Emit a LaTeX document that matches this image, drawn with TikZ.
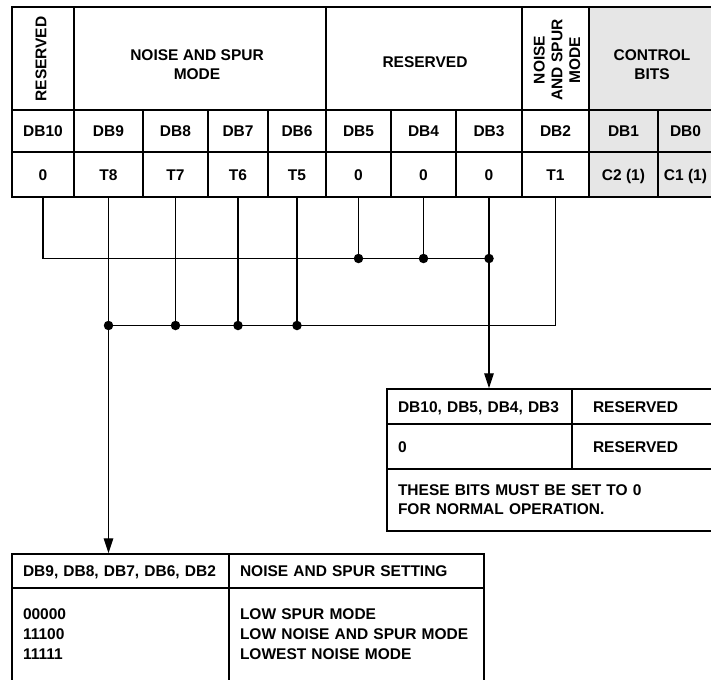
\documentclass[tikz,border=0pt]{standalone}
\usepackage{fontspec}
\setmainfont{Liberation Sans}
\usetikzlibrary{arrows.meta,calc}
\definecolor{ink}{HTML}{000000}
\definecolor{ctrlfill}{HTML}{E6E6E6}

\newcommand{\regfont}{\fontsize{15.5}{19}\selectfont\bfseries}
% centred cell: [opts] name, x1, x2, y1, y2, text (pixel units, y down)
\newcommand{\ccell}[7][]{%
  \node[cell,minimum width={(#4-#3)*1pt},minimum height={(#6-#5)*1pt},#1]
    (#2) at ({(#3+#4)/2},{(#5+#6)/2}) {#7};}
% left aligned cell, 11pt padding
\newcommand{\lcell}[7][]{%
  \node[cell,minimum width={(#4-#3)*1pt},minimum height={(#6-#5)*1pt},
        text width={(#4-#3-22)*1pt},inner xsep=11pt,align=left,#1]
    (#2) at ({(#3+#4)/2},{(#5+#6)/2}) {#7};}

\begin{document}
\begin{tikzpicture}[x=1pt,y=-1pt,
  cell/.style={draw=ink,line width=1.5pt,inner sep=0pt,font=\regfont,align=center},
  bitrow/.style={text height=11pt,text depth=0pt},
  hdr/.style={font=\regfont,align=center,inner sep=0pt},
  bus/.style={draw=ink,line width=1.4pt},
  jn/.style={circle,fill=ink,inner sep=0pt,minimum size=9.5pt},
  feed/.style={bus,-{Triangle[length=15pt,width=9.5pt]}}]
  \path[use as bounding box,clip] (0,0) rectangle (711,679);

  % register map: header row
  \ccell{h10}{12}{74}{7}{110}{}
  \ccell{h96}{74}{326}{7}{110}{}
  \ccell{h53}{326}{522}{7}{110}{}
  \ccell{h2}{522}{589}{7}{110}{}
  \ccell[fill=ctrlfill]{hc}{589}{713}{7}{110}{}
  \node[hdr,rotate=90] (t10) at (41,59) {RESERVED};
  \node[hdr] (t96) at (197,65) {NOISE AND SPUR\\MODE};
  \node[hdr] (t53) at (425,62) {RESERVED};
  \node[hdr,rotate=90,font=\fontsize{15.5}{17.7}\selectfont\bfseries] (t2) at (557,60)
       {NOISE\\AND SPUR\\MODE};
  \node[hdr] (tc) at (652,65) {CONTROL\\BITS};

  % bit names and values
  \foreach \nm/\xa/\xb/\tx in {b10/12/74/DB10,b9/74/143/DB9,b8/143/208/DB8,
      b7/208/268/DB7,b6/268/326/DB6,b5/326/391/DB5,b4/391/456/DB4,
      b3/456/522/DB3,b2/522/589/DB2}
    \ccell[bitrow]{\nm}{\xa}{\xb}{110}{152}{\tx};
  \ccell[bitrow,fill=ctrlfill]{b1}{589}{658}{110}{152}{DB1}
  \ccell[bitrow,fill=ctrlfill]{b0}{658}{713}{110}{152}{DB0}
  \foreach \nm/\xa/\xb/\tx in {v10/12/74/0,v9/74/143/T8,v8/143/208/T7,
      v7/208/268/T6,v6/268/326/T5,v5/326/391/0,v4/391/456/0,
      v3/456/522/0,v2/522/589/T1}
    \ccell[bitrow]{\nm}{\xa}{\xb}{152}{197}{\tx};
  \ccell[bitrow,fill=ctrlfill]{v1}{589}{658}{152}{197}{C2 (1)}
  \ccell[bitrow,fill=ctrlfill]{v0}{658}{713}{152}{197}{C1 (1)}

  % reserved bits table
  \lcell[bitrow]{r1a}{387}{572}{389}{424}{DB10, DB5, DB4, DB3}
  \lcell[bitrow]{r1b}{572}{713}{389}{424}{\hspace*{10pt}RESERVED}
  \lcell[bitrow]{r2a}{387}{572}{424}{469}{0}
  \lcell[bitrow]{r2b}{572}{713}{424}{469}{\hspace*{10pt}RESERVED}
  \lcell{r3}{387}{713}{469}{531}{THESE BITS MUST BE SET TO 0\\FOR NORMAL OPERATION.}

  % noise and spur table
  \lcell[bitrow]{s1a}{12}{229}{554}{588}{DB9, DB8, DB7, DB6, DB2}
  \lcell[bitrow]{s1b}{229}{484}{554}{588}{NOISE AND SPUR SETTING}
  \lcell[font=\fontsize{15.5}{20}\selectfont\bfseries]{s2a}{12}{229}{588}{681}
       {00000\\11100\\11111}
  \lcell[font=\fontsize{15.5}{20}\selectfont\bfseries]{s2b}{229}{484}{588}{681}
       {LOW SPUR MODE\\LOW NOISE AND SPUR MODE\\LOWEST NOISE MODE}

  % bus lines
  \coordinate (ub) at (0,258.5);
  \coordinate (lb) at (0,325.5);
  \draw[bus] (v10.south) |- (v3.south |- ub);
  \foreach \b in {v5,v4}
    \draw[bus] (\b.south) -- (\b.south |- ub);
  \draw[feed] (v3.south) -- (v3.south |- r1a.north);
  \draw[bus] (v2.south) |- (v9.south |- lb);
  \foreach \b in {v8,v7,v6}
    \draw[bus] (\b.south) -- (\b.south |- lb);
  \draw[feed] (v9.south) -- (v9.south |- s1a.north);
  \foreach \b in {v5,v4,v3}
    \node[jn] (j\b) at (\b.south |- ub) {};
  \foreach \b in {v9,v8,v7,v6}
    \node[jn] (j\b) at (\b.south |- lb) {};
\end{tikzpicture}
\end{document}
